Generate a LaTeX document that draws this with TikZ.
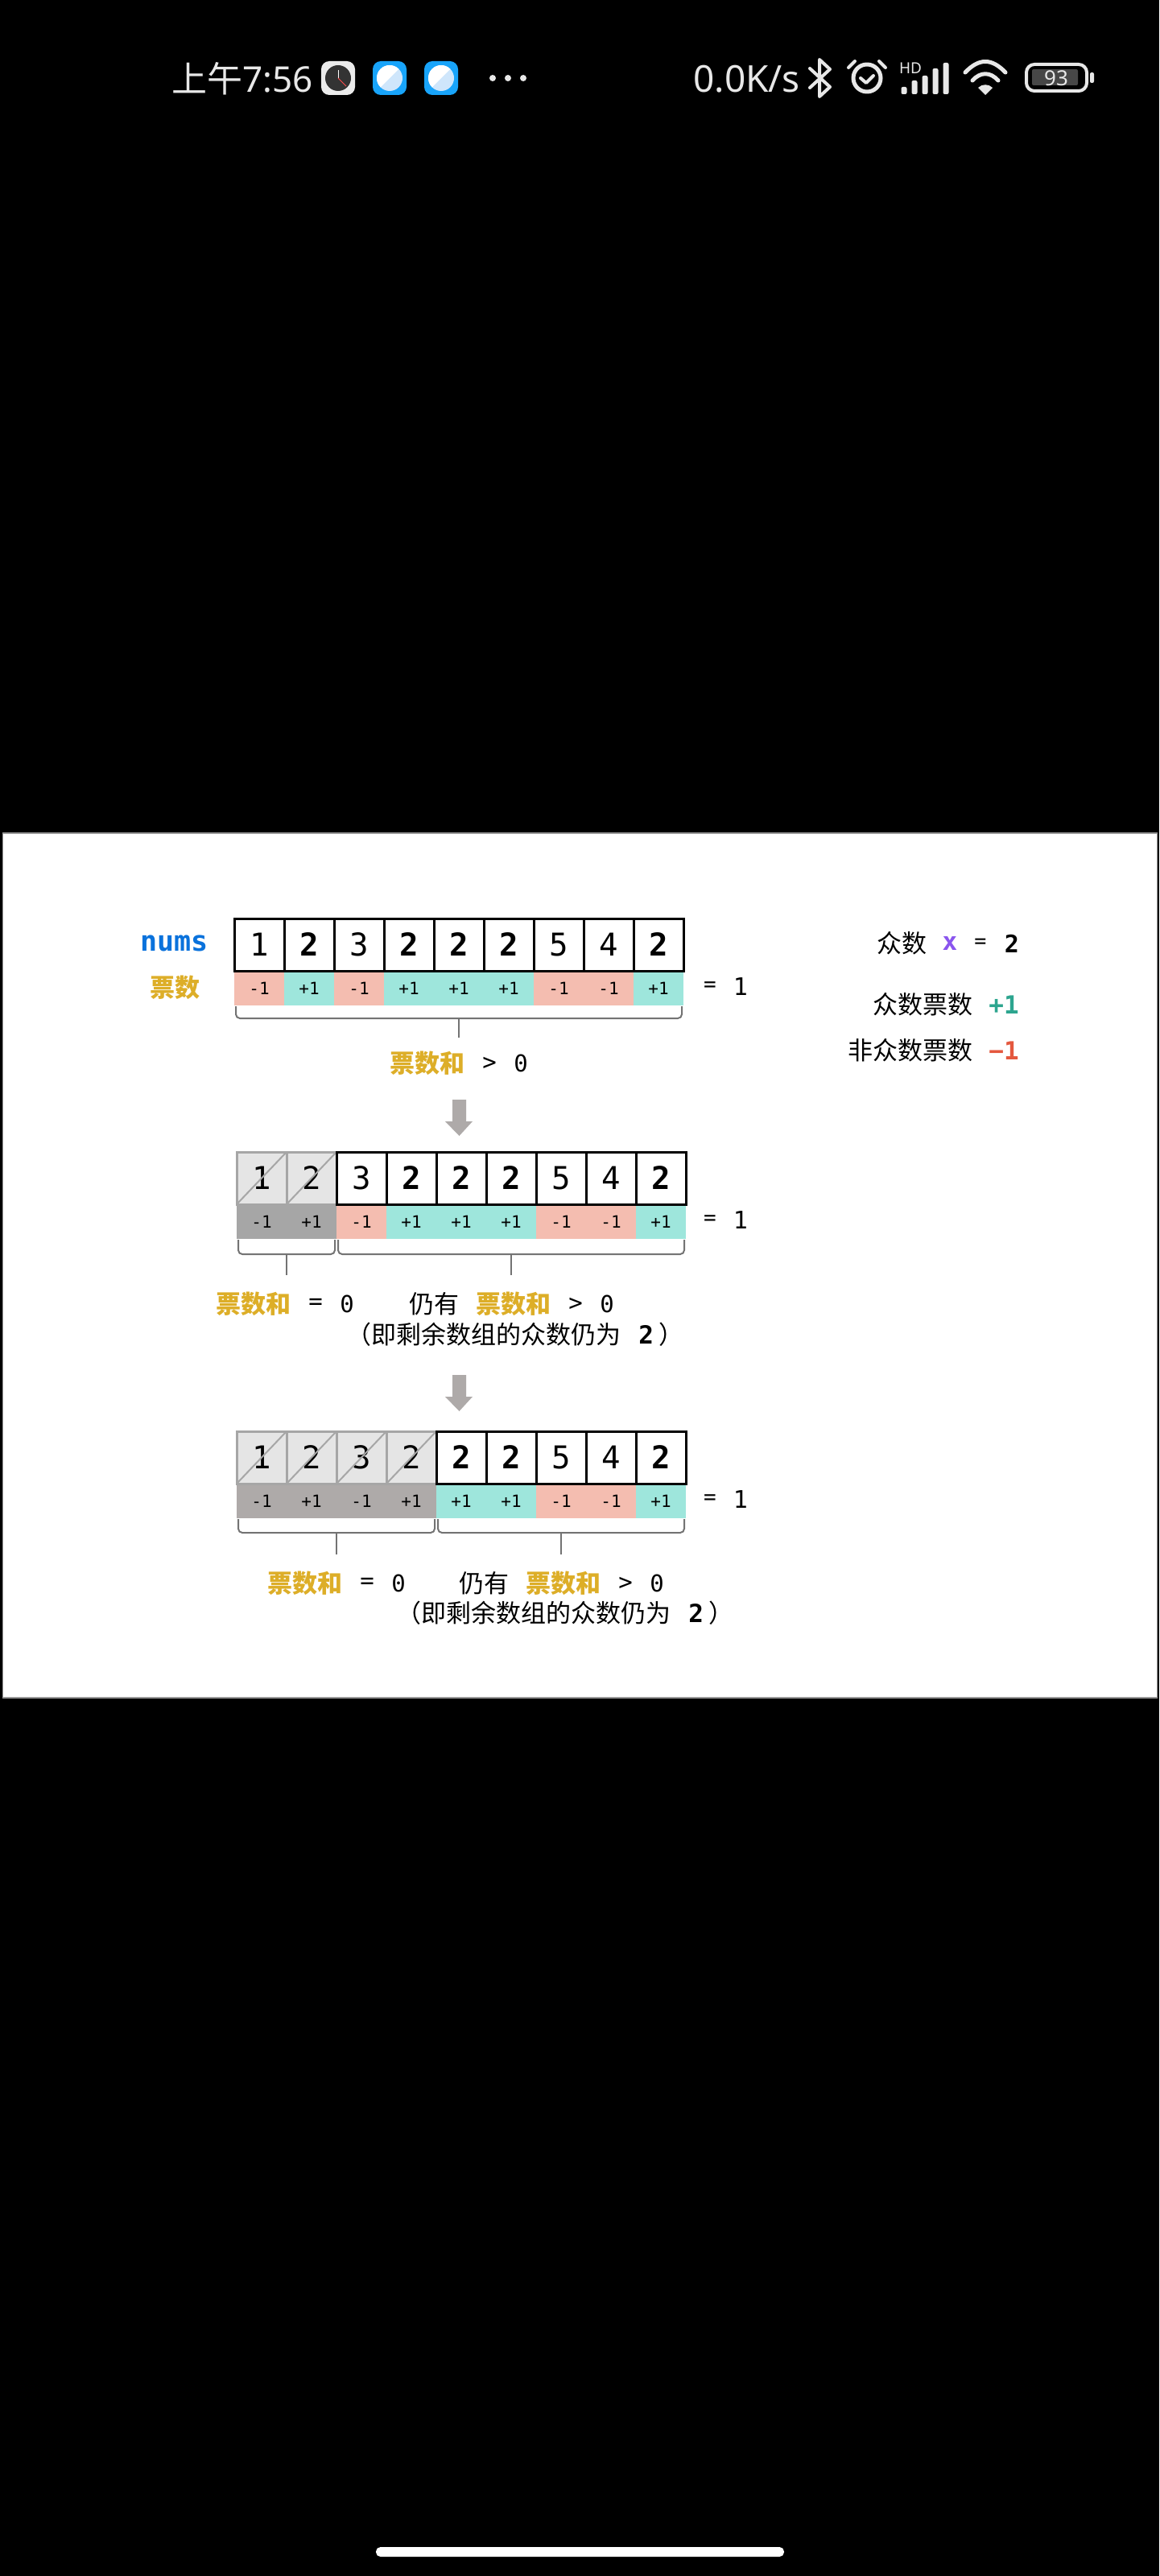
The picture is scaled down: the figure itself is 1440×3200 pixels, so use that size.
\documentclass[tikz,border=0pt]{standalone}
\usepackage{fontspec}
\usetikzlibrary{calc}
\setmainfont{DejaVu Sans Mono}
\newfontfamily\cjk{Noto Sans CJK SC}
\newfontfamily\statusfont{Noto Sans}
\definecolor{voteyellow}{HTML}{DDAE28}
\definecolor{numsblue}{HTML}{0A72DC}
\definecolor{majpurple}{HTML}{8A55EE}
\definecolor{plusgreen}{HTML}{2DA58F}
\definecolor{minusred}{HTML}{E4583E}
\definecolor{votepink}{HTML}{F4BDB0}
\definecolor{voteteal}{HTML}{9EE6DC}
\definecolor{deadrowb}{HTML}{A6A6A6}
\definecolor{deadrowc}{HTML}{AEAAA9}
\definecolor{arrowgray}{HTML}{AEAAA9}
\definecolor{barwhite}{HTML}{E8E8E8}
\definecolor{appblue}{HTML}{18A4FA}
\definecolor{planetblue}{HTML}{CFE6FB}
\tikzset{
  numcell/.style={draw=black, line width=1.5pt, fill=white, minimum width=31pt, minimum height=32.5pt, inner sep=0pt, outer sep=0pt, font=\fontsize{19.5}{19.5}\selectfont},
  boldcell/.style={numcell, font=\fontsize{19.5}{19.5}\selectfont\bfseries},
  deadcell/.style={numcell, draw=black!35, fill=black!10},
  votecell/.style={minimum width=31pt, minimum height=21.5pt, inner sep=0pt, outer sep=0pt, font=\fontsize{10.5}{10.5}\selectfont},
  strike/.style={draw=black!35, line width=1pt},
  bracket/.style={draw=black!55, line width=1pt, rounded corners=2.5pt},
  tick/.style={draw=black!55, line width=1pt},
  lbl/.style={inner sep=0pt, font=\fontsize{15.5}{15.5}\selectfont\cjk},
  ylbl/.style={lbl, text=voteyellow, font=\fontsize{15.5}{15.5}\selectfont\cjk\bfseries},
  mono/.style={inner sep=0pt, font=\fontsize{14.5}{14.5}\selectfont},
  bmono/.style={inner sep=0pt, font=\fontsize{15}{15}\selectfont\bfseries},
  barline/.style={draw=barwhite, line width=2pt, line cap=round, line join=round},
}
% texts under a bracket
\newcommand{\votesum}[4]{
  \node[ylbl] (#1a) at (#2,#3) {票数和};
  \node[mono] (#1b) at (#2+77,#3) {#4};
  \node[mono] (#1c) at (#2+116,#3) {0};
}
\newcommand{\votebrace}[5]{
  \draw[bracket] ($(#1.south west)+(2,1)$) -- ($(#1.south west)+(2,#4)$) -- ($(#2.south east)+(-2,#4)$) -- ($(#2.south east)+(-2,1)$);
  \coordinate (#3m) at ($(#1.south west)!.5!(#2.south east)+(0,#4)$);
  \coordinate (#3t) at ($(#1.south west)!.5!(#2.south east)+(0,#5)$);
  \draw[tick] (#3m) -- (#3t);
}
\newcommand{\remain}[3]{
  \node[lbl, anchor=west] (#1) at (#2,#3) {（即剩余数组的众数仍为\hspace*{11pt}{\fontsize{15.5}{15.5}\selectfont\rmfamily\bfseries 2}\hspace*{3pt}）};
}
\begin{document}
\begin{tikzpicture}[x=0.5pt, y=-0.5pt]
  \useasboundingbox (0,0) rectangle (1440,3200);
  \fill[black] (0,0) rectangle (1440,3200);

  % White panel
  \fill[black!40] (3,1034) rectangle (1438,2110);
  \fill[white] (4,1036) rectangle (1437,2108);

  % Home bar
  \fill[white, rounded corners=2.8pt] (467,3164) rectangle (974,3176);

  % Status bar, left side
  \node[inner sep=0pt, anchor=west, text=barwhite, font=\fontsize{22}{22}\selectfont\cjk] (clocktime) at (213,98) {上午\statusfont 7:56};
  \fill[black!8, rounded corners=5pt] (399,76) rectangle (441,118);
  \fill[black!80] (420,97) circle (8pt);
  \draw[white, line width=.5pt] (420,97) -- (420,87);
  \draw[red!70, line width=.4pt] (420,97) -- (430,107);
  \foreach \ix in {463,527}{
    \fill[appblue, rounded corners=5pt] (\ix,76) rectangle +(42,42);
    \fill[planetblue] (\ix+21,97) circle (8pt);
    \fill[white] (\ix+9.7,108.3) arc (225:45:8pt) -- cycle;
  }
  \foreach \dx in {612,631,650}
    \fill[barwhite] (\dx,97) circle (2pt);

  % Status bar, right side
  \node[inner sep=0pt, anchor=west, text=barwhite, font=\fontsize{23}{23}\selectfont\statusfont] (netspeed) at (861,98) {0.0K/s};
  \draw[barline] (1006,85) -- (1031,108) -- (1018,120) -- (1018,74) -- (1031,86) -- (1006,109);
  \draw[barline, line width=2.5pt] (1077,97) circle (8.5pt);
  \draw[barline] (1069,97) -- (1076,103) -- (1085,94);
  \draw[barline] (1054,84) -- (1062,76);
  \draw[barline] (1092,76) -- (1100,84);
  \node[inner sep=0pt, text=barwhite, font=\fontsize{9.5}{9.5}\selectfont\statusfont\bfseries] (hdmark) at (1131,85) {HD};
  \foreach \bx/\by in {1123/108,1136/100,1149/94,1162/85,1175/78}
    \fill[barwhite, rounded corners=1pt] (\bx-3.5,\by) rectangle (\bx+3.5,117);
  \draw[barline, line width=2.5pt] (1199,90) .. controls (1216,72) and (1232,72) .. (1249,90);
  \draw[barline, line width=2.5pt] (1208,100) .. controls (1218,89) and (1230,89) .. (1240,100);
  \fill[barwhite] (1224,118) -- (1215,109) .. controls (1220,104) and (1228,104) .. (1233,109) -- cycle;
  \draw[barline, rounded corners=5pt] (1275,80) rectangle (1350,113);
  \fill[black!72, rounded corners=1pt] (1282,86) rectangle (1339,106);
  \node[inner sep=0pt, text=barwhite, font=\fontsize{13}{13}\selectfont\statusfont] (battery) at (1312,97) {93};
  \fill[barwhite, rounded corners=1pt] (1354,90) rectangle (1359,103);

  % Rows of numbers and votes
  \foreach \r/\ox/\oy/\n/\dead in {a/291/1141/0/deadrowb, b/294/1431/2/deadrowb, c/294/1778/4/deadrowc}{
    \foreach \v [count=\i] in {1,2,3,2,2,2,5,4,2}{
      \pgfmathsetmacro\cx{\ox+(\i-0.5)*62}
      \ifnum\i>\n
        \ifnum\v=2 \def\sty{boldcell}\def\tint{voteteal}\def\sgn{+1}\else \def\sty{numcell}\def\tint{votepink}\def\sgn{-1}\fi
      \else
        \def\sty{deadcell}\def\tint{\dead}
        \ifnum\v=2 \def\sgn{+1}\else \def\sgn{-1}\fi
      \fi
      \node[votecell, fill=\tint] (\r v\i) at (\cx,\oy+65+21.5) {\sgn};
      \node[\sty] (\r\i) at (\cx,\oy+32.5) {\v};
      \ifnum\i>\n\else
        \draw[strike] (\r\i.south west) -- (\r\i.north east);
      \fi
    }
    \node[inner sep=0pt] (\r eq) at (882,\oy+85) {\fontsize{13}{13}\selectfont =};
    \node[inner sep=0pt] (\r sum) at (920,\oy+85) {\fontsize{15}{15}\selectfont 1};
  }

  % Row labels
  \node[inner sep=0pt, text=numsblue, font=\fontsize{17.5}{17.5}\selectfont\bfseries] (numslabel) at (216.5,1172) {nums};
  \node[ylbl] (votelabel) at (217,1227) {票数};

  % Brackets
  \votebrace{av1}{av9}{ab}{16}{40}
  \votebrace{bv1}{bv2}{bl}{19}{45}
  \votebrace{bv3}{bv9}{br}{19}{45}
  \votebrace{cv1}{cv4}{cl}{18}{45}
  \votebrace{cv5}{cv9}{cr}{18}{45}

  % Texts under the brackets
  \votesum{sa}{531}{1321}{>}
  \votesum{sb}{315}{1620}{=}
  \node[lbl] (stillb) at (539,1620) {仍有};
  \votesum{sc}{638}{1620}{>}
  \remain{remainb}{430}{1658}
  \votesum{sd}{379}{1967}{=}
  \node[lbl] (stillc) at (601,1967) {仍有};
  \votesum{se}{700}{1967}{>}
  \remain{remainc}{492}{2004}

  % Arrows between the rows
  \foreach \ay in {1366,1708}
    \fill[arrowgray] (562,\ay) -- (579,\ay) -- (579,\ay+27) -- (587,\ay+27) -- (570.5,\ay+45) -- (553,\ay+27) -- (562,\ay+27) -- cycle;

  % Legend
  \node[lbl] (majname) at (1120,1172) {众数};
  \node[inner sep=0pt, text=majpurple, font=\fontsize{15.5}{15.5}\selectfont\bfseries] (majx) at (1180,1172) {x};
  \node[inner sep=0pt, font=\fontsize{12.5}{12.5}\selectfont] (majeq) at (1218,1172) {=};
  \node[bmono] (majval) at (1257,1172) {2};
  \node[lbl] (majvote) at (1146,1248) {众数票数};
  \node[inner sep=0pt, text=plusgreen, font=\fontsize{15.5}{15.5}\selectfont\bfseries] (majplus) at (1247,1248) {+1};
  \node[lbl] (minvote) at (1131,1305) {非众数票数};
  \node[inner sep=0pt, text=minusred, font=\fontsize{15.5}{15.5}\selectfont\bfseries] (minminus) at (1247,1305) {−1};
\end{tikzpicture}
\end{document}
